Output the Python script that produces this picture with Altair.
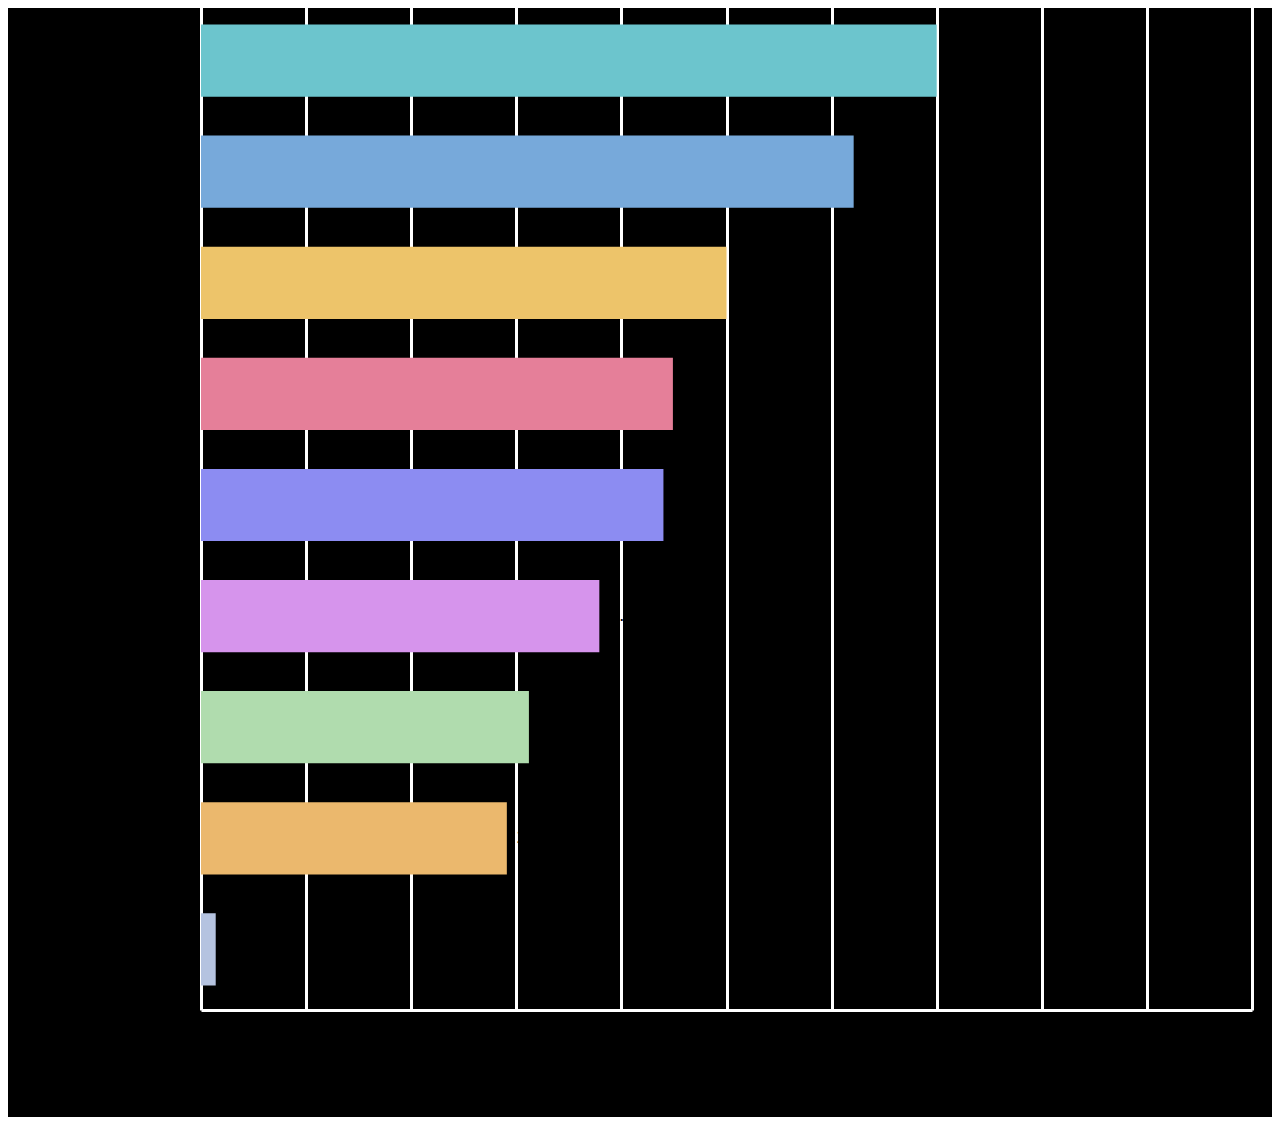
import altair as alt
import pandas as pd

# bar values, top to bottom
categories = ["Category 1", "Category 2", "Category 3", "Category 4", "Category 5",
              "Category 6", "Category 7", "Category 8", "Category 9"]
values = [7.0, 6.21, 5.0, 4.49, 4.4, 3.79, 3.12, 2.91, 0.14]
colors = ["#6CC5CD", "#77A9DA", "#EDC46A", "#E57F99", "#8C8CF2",
          "#D694EC", "#B0DCAE", "#EBB86D", "#B5C3E0"]
x_ticks = list(range(0, 11))

df = pd.DataFrame({"category": categories, "value": values})

y_enc = alt.Y("category:N", sort=categories, title=None,
              scale=alt.Scale(paddingInner=0.35, paddingOuter=0.22),
              axis=alt.Axis(labelColor="#000000", labelFontSize=14, ticks=False,
                            domain=False, grid=False))
x_enc = alt.X("value:Q", title="Value",
              scale=alt.Scale(domain=[0, 10], nice=False),
              axis=alt.Axis(values=x_ticks, labelColor="#000000", titleColor="#000000",
                            ticks=False, domainColor="#FFFFFF", domainWidth=3,
                            gridColor="#FFFFFF", gridWidth=3, gridOpacity=1))

bars = alt.Chart(df).mark_bar().encode(
    x=x_enc,
    y=y_enc,
    color=alt.Color("category:N", scale=alt.Scale(domain=categories, range=colors),
                    legend=None),
)

labels = alt.Chart(df).mark_text(align="left", dx=10, fontSize=18, color="#000000").encode(
    x="value:Q",
    y=alt.Y("category:N", sort=categories),
    text=alt.Text("value:Q", format=".2f"),
)

chart = (bars + labels).properties(
    width=1051,
    height=1010,
    background="#000000",
    autosize=alt.AutoSizeParams(type="none"),
    padding={"left": 193, "top": -8, "right": 20, "bottom": 107},
).configure_view(stroke=None, fill="#000000")

chart.save("out.html", embed_options={"renderer": "svg", "actions": False})
